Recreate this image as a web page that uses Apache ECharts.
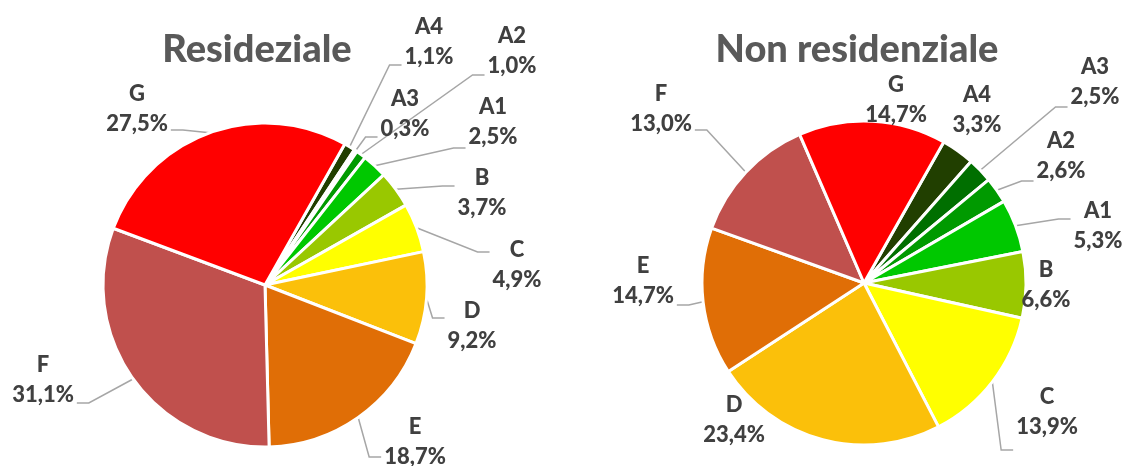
<!DOCTYPE html>
<html>
<head>
<meta charset="utf-8">
<script src="https://cdn.jsdelivr.net/npm/echarts@6/dist/echarts.min.js"></script>
<style>
    html, body {margin: 0; padding: 0; background: #fff;}
    #main {width: 1125px; height: 466px;}
</style>
</head>
<body>
<div id="main"></div>
<script>
    // energy classes, clockwise from the top
    var classes = ['A4', 'A3', 'A2', 'A1', 'B', 'C', 'D', 'E', 'F', 'G'];
    var residenziale = [1.1, 0.3, 1.0, 2.5, 3.7, 4.9, 9.2, 18.7, 31.1, 27.5];
    var nonResidenziale = [3.3, 2.5, 2.6, 5.3, 6.6, 13.9, 23.4, 14.7, 13.0, 14.7];
    var classColors = ['#213f00', '#006f00', '#009a00', '#00c800', '#99c800',
        '#ffff00', '#fbc00a', '#e06e06', '#c0504d', '#ff0000'];

    // label layout: block centre (px) and the height at which the leader line meets it
    var resLabelPos = [[429, 42], [405, 114], [512, 51], [493, 122], [482, 193],
        [517, 265], [472, 326], [415, 442], [43, 380], [137, 109]];
    var resLineDy = [23, 23, 24, 26, -7, -13, -8, 15, 23, 21];
    var nonResLabelPos = [[977, 110], [1095, 82], [1061, 156], [1098, 226], [1046, 285],
        [1047, 412], [734, 420], [643, 281], [661, 109], [896, 100]];
    var nonResLineDy = [null, 25, 25, -7, null, 38, null, 24, 21, null];

    function pieSeries(values, center, pos, lineDy) {
        return {
            type: 'pie',
            center: center,
            radius: 162,
            startAngle: 60.5,
            clockwise: true,
            avoidLabelOverlap: false,
            emphasis: {disabled: true},
            itemStyle: {borderColor: '#fff', borderWidth: 3},
            label: {
                show: true, position: 'outside',
                fontFamily: 'Lato', fontWeight: 900, fontSize: 22, lineHeight: 30,
                color: '#404040',
                formatter: function (p) {
                    return p.name + '\n' + p.value.toFixed(1).replace('.', ',') + '%';
                }
            },
            labelLine: {show: true, length: 10, length2: 12, lineStyle: {color: '#a6a6a6', width: 1.5}},
            labelLayout: function (p) {
                var i = p.dataIndex, cx = pos[i][0], cy = pos[i][1];
                var out = {x: cx, y: cy, align: 'center', verticalAlign: 'middle'};
                var pts = p.labelLinePoints;
                if (pts && lineDy[i] != null) {
                    var start = pts[0];
                    var side = start[0] < cx ? -1 : 1;
                    var end = [cx + side * (p.labelRect.width / 2 + 3), cy + lineDy[i]];
                    out.labelLinePoints = [start, [end[0] + side * 12, end[1]], end];
                }
                return out;
            },
            data: classes.map(function (c, i) {
                var item = {name: c, value: values[i], itemStyle: {color: classColors[i]}};
                if (lineDy[i] == null) item.labelLine = {show: false};
                return item;
            })
        };
    }

    var chart = echarts.init(document.getElementById('main'));
    var titleStyle = {fontFamily: 'Lato', fontWeight: 900, fontSize: 38, color: '#595959'};
    chart.setOption({
        animation: false,
        backgroundColor: '#fff',
        title: [
            {text: 'Resideziale', left: 252, top: 26, textAlign: 'center', textStyle: titleStyle},
            {text: 'Non residenziale', left: 852, top: 26, textAlign: 'center', textStyle: titleStyle}
        ],
        series: [
            pieSeries(residenziale, [265, 285], resLabelPos, resLineDy),
            pieSeries(nonResidenziale, [864, 283], nonResLabelPos, nonResLineDy)
        ]
    });
    window.addEventListener('resize', function () {
        chart.resize();
    });
</script>
</body>
</html>
